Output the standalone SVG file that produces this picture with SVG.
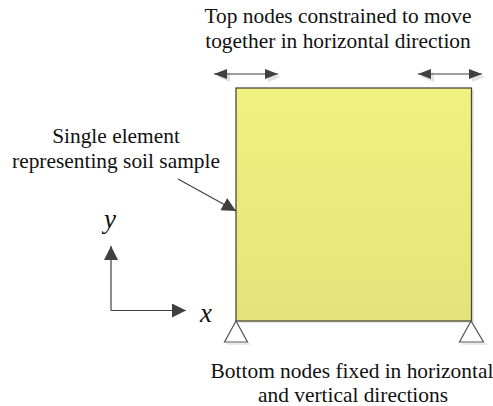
<svg xmlns="http://www.w3.org/2000/svg" width="493" height="406" viewBox="0 0 493 406">
<defs>
<linearGradient id="fill" x1="0" y1="0" x2="0" y2="1"><stop offset="0" stop-color="#f1f17f"/><stop offset="1" stop-color="#e3e37a"/></linearGradient>
<marker id="ah" markerUnits="userSpaceOnUse" markerWidth="15" markerHeight="15" refX="14" refY="7" orient="auto-start-reverse"><path d="M0,0 L14,7 L0,14 Z" fill="#404040"/></marker>
<marker id="sm" markerUnits="userSpaceOnUse" markerWidth="14" markerHeight="11" refX="13" refY="5" orient="auto-start-reverse"><path d="M0,0 L13,5 L0,10 Z" fill="#404040"/></marker>
<marker id="sms" markerUnits="userSpaceOnUse" markerWidth="14" markerHeight="11" refX="13" refY="5" orient="auto-start-reverse"><path d="M0,0 L13,5 L0,10 Z" fill="#e2e2e2"/></marker>
</defs>
<style>
.t{font-family:"Liberation Serif","Times New Roman",serif;font-size:21.4px;fill:#111;text-anchor:middle}
.i{font-family:"Liberation Serif","Times New Roman",serif;font-size:27px;font-style:italic;fill:#111}
.c{fill:none;stroke:#404040;stroke-width:1.2}
.tri{fill:#fff;stroke:#555;stroke-width:1.2}
</style>
<g id="sample">
<rect x="238" y="90" width="236" height="233" fill="#e6e6e6"/>
<rect x="236" y="88" width="235.500" height="233" fill="url(#fill)" stroke="#4a4a3a" stroke-width="1.300"/>
</g>
<g id="support-left"><path d="M226,343 H250 V345 H228 Z" fill="#e8e8e8"/><path class="tri" d="M236,321 L224.500,342 H247.500 Z"/></g>
<g id="support-right"><path d="M462,343 H487 V345 H462 Z" fill="#e8e8e8"/><path class="tri" d="M471,321 L459.500,342 H483.500 Z"/></g>
<g id="connectors">
<path fill="none" d="M217,77 H281" marker-start="url(#sms)" marker-end="url(#sms)"/>
<path fill="none" d="M421,77 H485" marker-start="url(#sms)" marker-end="url(#sms)"/>
<path class="c" d="M214,74 H278" marker-start="url(#sm)" marker-end="url(#sm)"/>
<path class="c" d="M418,74 H482" marker-start="url(#sm)" marker-end="url(#sm)"/>
<path class="c" d="M178,179 L236,211" marker-end="url(#ah)"/>
<path class="c" d="M111,310.500 V246" marker-end="url(#ah)"/>
<path class="c" d="M111,310.500 H186" marker-end="url(#ah)"/>
</g>
<g id="label-top"><text class="t" x="338" y="23">Top nodes constrained to move</text><text class="t" x="338" y="48">together in horizontal direction</text></g>
<g id="label-element"><text class="t" x="116" y="143">Single element</text><text class="t" x="116" y="168">representing soil sample</text></g>
<g id="label-bottom"><text class="t" x="352" y="378">Bottom nodes fixed in horizontal</text><text class="t" x="353" y="402">and vertical directions</text></g>
<g id="axis-y"><text class="i" x="104" y="228">y</text></g>
<g id="axis-x"><text class="i" x="200" y="322">x</text></g>
</svg>
